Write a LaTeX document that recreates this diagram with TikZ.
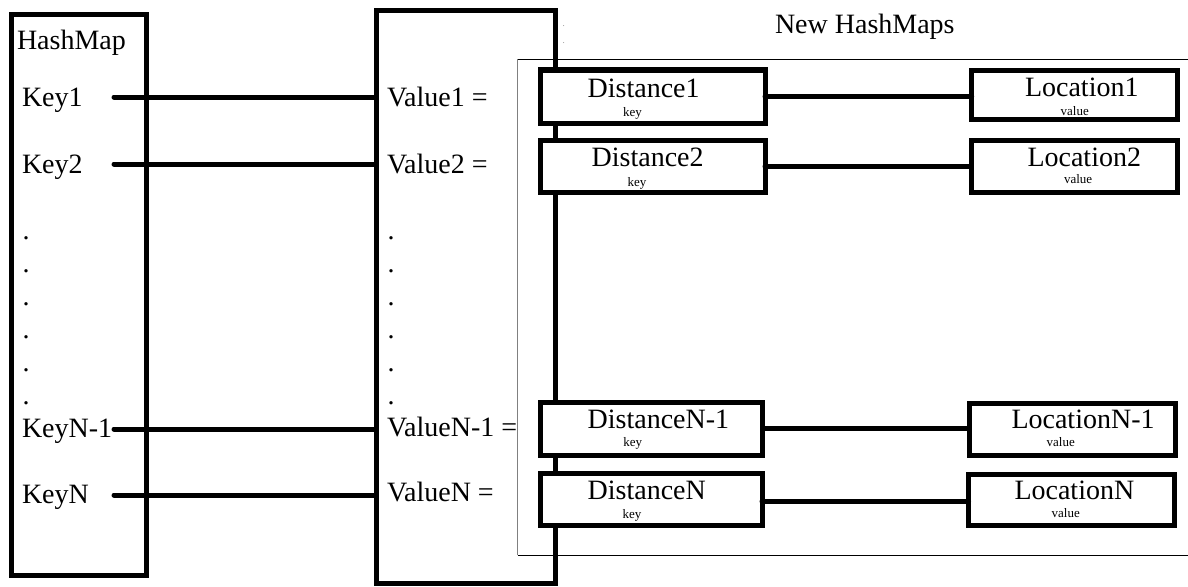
\documentclass[tikz,border=0pt]{standalone}
\usepackage{fontspec}
\setmainfont{Liberation Serif}
\begin{document}
\begin{tikzpicture}[x=1pt,y=-1pt,
  frame/.style={draw, line width=5pt, inner sep=0pt, outer sep=0pt},
  entrybox/.style={frame, fill=white},
  txt/.style={anchor=base west, inner sep=0pt, outer sep=0pt, font=\fontsize{28}{32}\selectfont},
  tag/.style={anchor=base west, inner sep=0pt, outer sep=0pt, font=\fontsize{13}{15}\selectfont},
  link/.style={line width=5pt, line cap=round}]
\useasboundingbox (0,0) rectangle (1188,586);

% outer map and its values column
\node[frame, minimum width=134.8pt, minimum height=560.5pt] (hm) at (79.1,295.25) {};
\node[frame, minimum width=179.5pt, minimum height=573pt] (vals) at (465.75,297) {};

% frame around the nested maps (open to the right)
\draw[line width=0.9pt] (1190,59.5) -- (517.5,59.5);
\draw[line width=0.9pt] (517.5,555) -- (1190,555);
\draw[line width=1.6pt, gray] (517.5,59.5) -- (517.5,555);
\node[txt] (title) at (775,33.3) {New HashMaps};
\node[anchor=base west, inner sep=0pt, font=\fontsize{6}{6}\selectfont] (m1) at (563,27) {.};
\node[anchor=base west, inner sep=0pt, font=\fontsize{6}{6}\selectfont] (m2) at (563,44) {.};

% keys
\node[txt] (hmt) at (17,49) {HashMap};
\node[txt] (k1) at (22,106.7) {Key1};
\node[txt] (k2) at (22,173) {Key2};
\node[txt] (kn1) at (22,437) {KeyN-1};
\node[txt] (kn) at (22,503) {KeyN};
\foreach \y [count=\i] in {239,272.5,305.5,338,371.5,404}{
  \node[txt] (kd\i) at (22.5,\y) {.};
  \node[txt] (vd\i) at (387.5,\y) {.};
}

% values
\node[txt] (v1) at (387,106.7) {Value1 =};
\node[txt] (v2) at (387,173) {Value2 =};
\node[txt] (vn1) at (387,436.7) {ValueN-1 =};
\node[txt] (vn) at (387,501.7) {ValueN =};

% key -> value links
\coordinate (s1) at (114,97);
\coordinate (s2) at (114,164);
\coordinate (s3) at (114,429);
\coordinate (s4) at (114,495);
\foreach \s in {s1,s2,s3,s4}
  \draw[link] (\s) -- (\s -| vals.west);

% nested maps: distance -> location
\node[entrybox, minimum width=225pt, minimum height=53pt] (d1) at (652.5,96.5) {};
\node[entrybox, minimum width=225pt, minimum height=52pt] (d2) at (652.5,166) {};
\node[entrybox, minimum width=222.5pt, minimum height=53pt] (dn1) at (651.25,428.5) {};
\node[entrybox, minimum width=222pt, minimum height=52pt] (dn) at (651,499.5) {};
\node[entrybox, minimum width=205.8pt, minimum height=48.5pt] (l1) at (1074.6,94.75) {};
\node[entrybox, minimum width=206pt, minimum height=52pt] (l2) at (1074,166.5) {};
\node[entrybox, minimum width=206pt, minimum height=52pt] (ln1) at (1072,429) {};
\node[entrybox, minimum width=205.5pt, minimum height=51pt] (ln) at (1071.25,500) {};

\draw[link] ([yshift=0.2pt]d1.east) -- ([yshift=0.2pt]d1.east -| l1.west);
\draw[link] (d2.east) -- (d2.east -| l2.west);
\draw[link] (dn1.east) -- (dn1.east -| ln1.west);
\draw[link] ([yshift=-1.5pt]dn.east) -- ([yshift=-1.5pt]dn.east -| ln.west);

% labels inside the entries
\node[txt] at (587.7,97.7) {Distance1};
\node[tag] at (623,116.7) {key};
\node[txt] at (591.7,166.7) {Distance2};
\node[tag] at (627.7,186) {key};
\node[txt] at (587.7,428.3) {DistanceN-1};
\node[tag] at (623.3,446) {key};
\node[txt] at (587.7,499.3) {DistanceN};
\node[tag] at (622.7,518.3) {key};

\node[txt] at (1025,96.7) {Location1};
\node[tag] at (1060.7,115) {value};
\node[txt] at (1027.5,166) {Location2};
\node[tag] at (1064,183.3) {value};
\node[txt] at (1011.5,428.3) {LocationN-1};
\node[tag] at (1046.7,446) {value};
\node[txt] at (1014.5,499.3) {LocationN};
\node[tag] at (1051.7,517.7) {value};
\end{tikzpicture}
\end{document}
